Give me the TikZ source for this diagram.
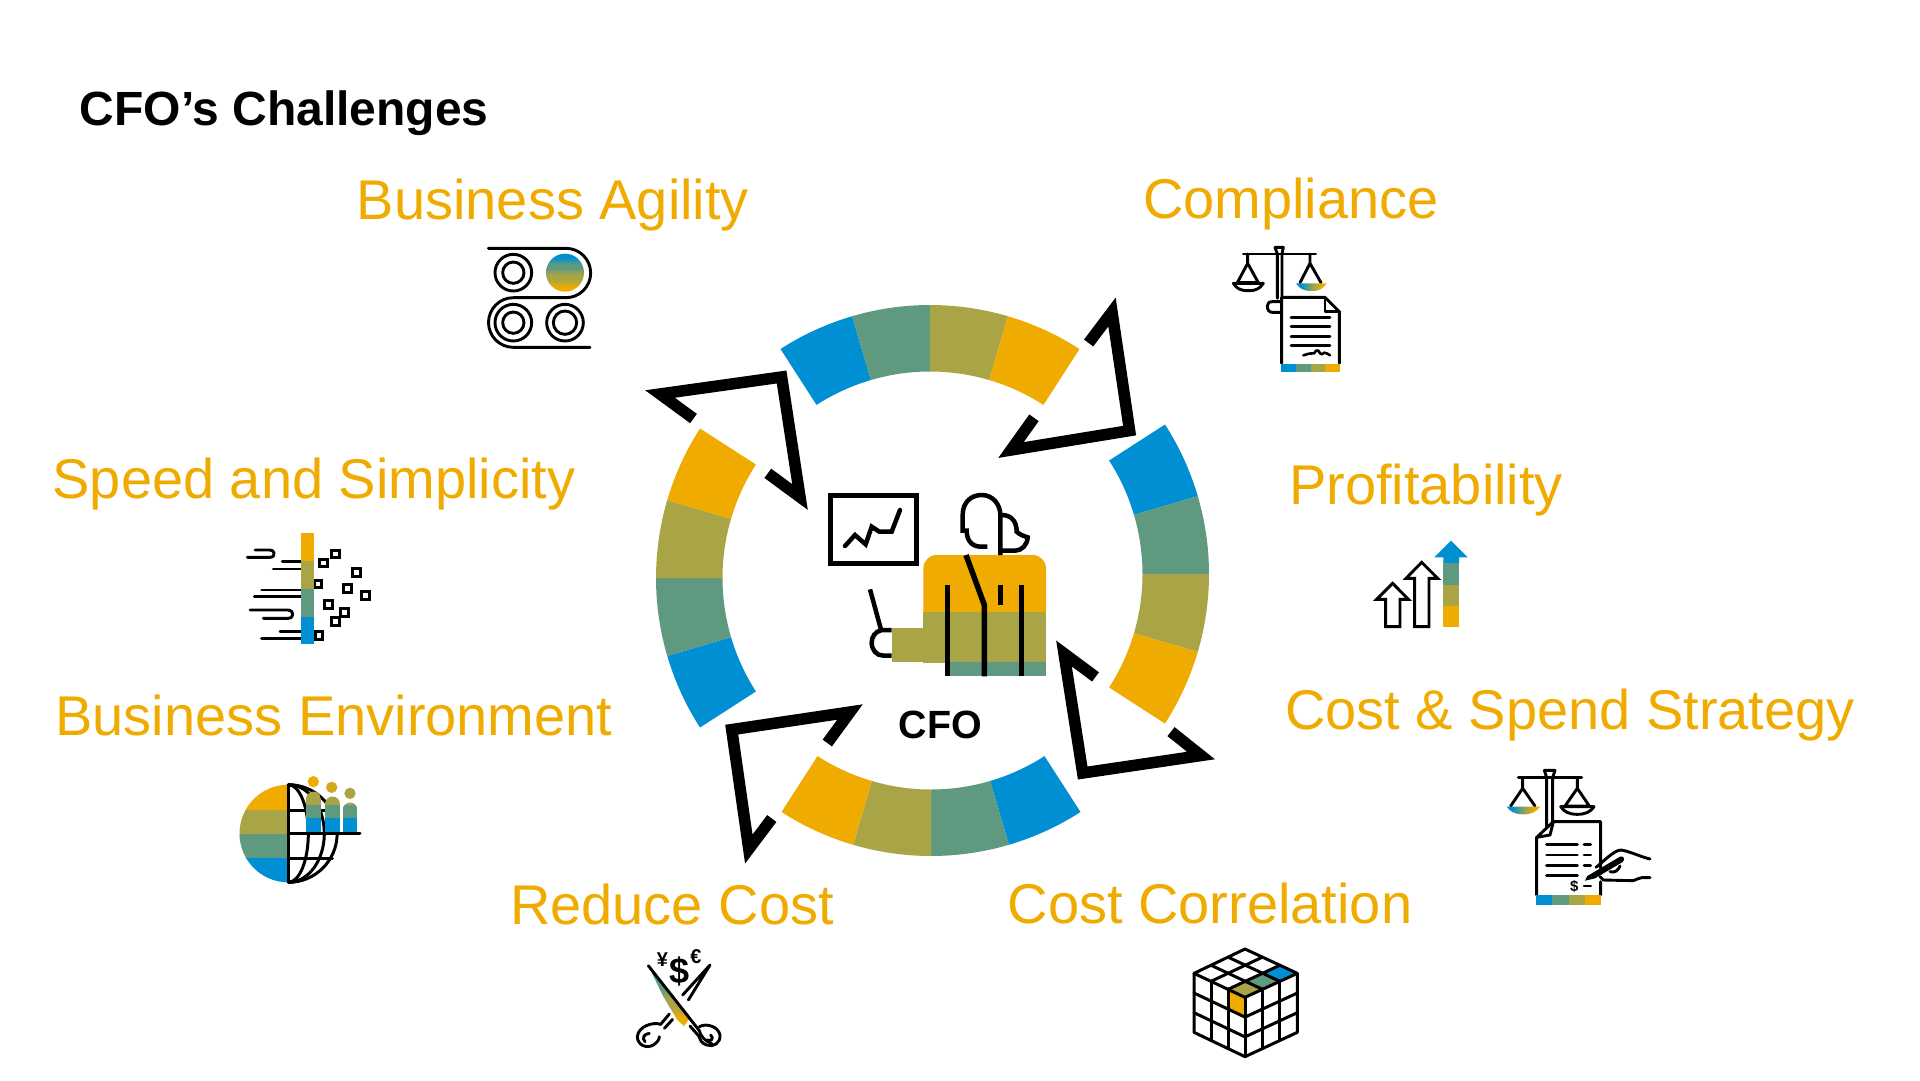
\documentclass[tikz,border=0pt]{standalone}
\usepackage{fontspec}
\setmainfont{Liberation Sans}
\definecolor{sapamber}{HTML}{F0AB00}
\definecolor{sapolive}{HTML}{A9A546}
\definecolor{sapgreen}{HTML}{5F9A80}
\definecolor{sapblue}{HTML}{008FD3}
\pgfdeclareverticalshading{vbands}{100bp}{color(0bp)=(sapamber);color(31bp)=(sapamber);color(41bp)=(sapolive);color(47bp)=(sapolive);color(56bp)=(sapgreen);color(61bp)=(sapgreen);color(70bp)=(sapblue);color(100bp)=(sapblue)}
\pgfdeclarehorizontalshading{hbands}{100bp}{color(0bp)=(sapblue);color(33bp)=(sapblue);color(44bp)=(sapgreen);color(55bp)=(sapolive);color(68bp)=(sapamber);color(100bp)=(sapamber)}
\tikzset{
 lab/.style={text=sapamber,font=\fontsize{56}{60}\selectfont,inner sep=0pt},
 ttl/.style={text=black,font=\bfseries\fontsize{48}{52}\selectfont,inner sep=0pt},
 arrowline/.style={line width=11.5,draw=black,miter limit=30,line join=miter,line cap=butt},
 ico/.style={line width=2.9,draw=black,line cap=round,line join=round},
 fat/.style={line width=5,draw=black,line cap=butt,line join=miter}
}
% ring band: centre, first screen angle, four colours
\newcommand{\ringband}[7]{%
 \foreach \k/\c in {0/#4,1/#5,2/#6,3/#7}{%
  \pgfmathsetmacro{\aa}{#3+16.4*\k}\pgfmathsetmacro{\bb}{\aa+16.4}%
  \fill[\c] ({#1+276*cos(\aa)},{#2+276*sin(\aa)}) arc[start angle=\aa,end angle=\bb,radius=276]
   -- ({#1+209.5*cos(\bb)},{#2+209.5*sin(\bb)}) arc[start angle=\bb,end angle=\aa,radius=209.5] -- cycle;}}
\begin{document}
\begin{tikzpicture}[x=1pt,y=-1pt]
\useasboundingbox (0,0) rectangle (1920,1080);
\fill[white] (0,0) rectangle (1920,1080);
% texts
\node[ttl,anchor=west] (title) at (79.5,113) {CFO’s Challenges};
\node[lab] (t1) at (553,205) {Business Agility};
\node[lab] (t2) at (1291,204) {Compliance};
\node[lab] (t3) at (314,484) {Speed and Simplicity};
\node[lab] (t4) at (1426,490) {Profitability};
\node[lab] (t5) at (334,715) {Business Environment};
\node[lab] (t6) at (1570,715) {Cost \& Spend Strategy};
\node[lab] (t7) at (672,904) {Reduce Cost};
\node[lab] (t8) at (1210,903) {Cost Correlation};
\node[font=\bfseries\fontsize{39.4}{44}\selectfont,inner sep=0pt] (cfo) at (940.5,725) {CFO};
% ring
\ringband{930}{581}{-122.8}{sapblue}{sapgreen}{sapolive}{sapamber}
\ringband{933}{574}{-32.8}{sapblue}{sapgreen}{sapolive}{sapamber}
\ringband{931}{580}{57.2}{sapblue}{sapgreen}{sapolive}{sapamber}
\ringband{932}{578}{147.2}{sapblue}{sapgreen}{sapolive}{sapamber}
% arrows
\draw[arrowline] (1088.6,343) -- (1112,312) -- (1129.6,430.6) -- (1011,450) -- (1034,417.8);
\draw[arrowline] (693.5,418.5) -- (660,394) -- (781.6,377) -- (800,497) -- (767.8,473.3);
\draw[arrowline] (827.3,743) -- (850,712) -- (731.7,729.6) -- (748.8,849) -- (771.8,818.5);
\draw[arrowline] (1095.5,676.9) -- (1064,653.5) -- (1082.7,773) -- (1201,755.5) -- (1171,731.6);
% CFO figure
\begin{scope}[shift={(820,480)},scale=1/3]
 \draw[fat] (32,47) rectangle (288,250);
 \draw[fat,line cap=round,line width=4.5] (75,198) -- (105,165) -- (137,193) -- (155,140) -- (178,155) -- (215,155) -- (240,90);
 \fill[sapamber] (310,396) -- (310,265) arc[start angle=180,end angle=270,radius=40] -- (638,225) arc[start angle=270,end angle=360,radius=40] -- (678,396) -- cycle;
 \fill[sapolive] (310,395) rectangle (678,548);
 \fill[sapolive] (215,443) rectangle (312,546);
 \fill[sapgreen] (385,547) rectangle (678,589);
 \draw[fat,line width=5.5] (382,315) -- (382,589);
 \draw[fat,line width=5.5] (605,315) -- (605,589);
 \draw[fat,line width=5.5] (542,315) -- (542,376);
 \draw[fat,line width=5.5] (438,225) -- (493,375) -- (493,589);
 \draw[fat,line width=4.5] (502,200) -- (480,200) .. controls (450,198) and (440,175) .. (440,152) -- (428,152) -- (428,105) .. controls (428,65) and (455,45) .. (485,45) .. controls (520,45) and (541,75) .. (541,105) -- (541,225);
 \draw[fat,line width=4.5] (545,105) .. controls (575,105) and (590,125) .. (590,155) .. controls (600,165) and (612,168) .. (623,172) .. controls (622,195) and (605,212) .. (585,212) -- (541,212);
 \draw[fat,line width=4.5] (150,328) -- (182,445);
 \draw[fat,line width=4.5] (215,450) -- (185,450) .. controls (165,455) and (155,470) .. (155,488) .. controls (155,510) and (170,527) .. (190,527) -- (215,527);
\end{scope}
% Business Agility icon
\begin{scope}[shift={(460,230)},scale=1/3]
 \draw[ico] (85,55) -- (318,55) arc[start angle=-90,end angle=90,radius=74] -- (160,203) arc[start angle=-90,end angle=-270,radius=74.5] -- (390,352);
 \draw[ico] (160,128) circle (55);
 \draw[ico] (160,128) circle (32);
 \draw[ico] (160,278) circle (55);
 \draw[ico] (160,278) circle (32);
 \draw[ico] (315,278) circle (55);
 \draw[ico] (315,278) circle (35);
 \shade[shading=vbands] (315,128) circle (57);
\end{scope}
% Compliance icon
\begin{scope}[shift={(1220,230)},scale=1/3]
 \draw[ico] (70,72) -- (287,72);
 \draw[ico] (165,52) -- (190,52) -- (186,72) -- (186,205) (165,52) -- (172,72) -- (172,205);
 \draw[ico] (83,72) -- (83,100) -- (52,158) -- (115,158) -- (83,100);
 \draw[ico] (40,160) -- (130,160) .. controls (120,175) and (110,182) .. (85,182) .. controls (60,182) and (50,175) .. (40,160) -- cycle;
 \draw[ico] (270,72) -- (270,100) -- (240,158) (270,100) -- (303,158);
 \shade[shading=hbands] (228,160) -- (320,160) .. controls (310,175) and (300,183) .. (275,183) .. controls (250,183) and (238,175) .. (228,160) -- cycle;
 \draw[ico] (185,215) -- (157,215) .. controls (147,215) and (142,220) .. (142,228) .. controls (142,240) and (147,247) .. (157,247) -- (185,247);
 \draw[ico] (185,400) -- (185,202) -- (315,202) -- (358,245) -- (358,400);
 \draw[ico] (315,202) -- (315,245) -- (358,245);
 \foreach \y in {262,290,320,347} \draw[ico] (213,\y) -- (330,\y);
 \draw[ico,line width=2.6] (250,376) .. controls (265,372) and (272,368) .. (282,370) .. controls (288,362) and (292,358) .. (295,362) .. controls (300,370) and (305,378) .. (312,368) .. controls (318,368) and (325,372) .. (330,376);
 \foreach \x/\c in {183/sapblue,227/sapgreen,272/sapolive,316/sapamber} \fill[\c] (\x,402) rectangle ++(45,25);
\end{scope}
% Speed and Simplicity icon
\begin{scope}[shift={(230,520)},scale=1/3]
 \foreach \p in {(281,129),(317,102),(379,158),(352,206),(407,226),(295,253),(344,277),(317,304),(267,346),(264,192)}
  \draw[ico,line width=3,line cap=butt,line join=miter] \p ++(-11.5,-11.5) rectangle ++(23,23);
 \draw[ico] (52,112) -- (120,112) .. controls (130,112) and (134,105) .. (132,98) .. controls (130,92) and (126,90) .. (118,90) -- (75,90);
 \draw[ico] (157,125) -- (212,125) (130,147) -- (212,147) (95,210) -- (212,210) (73,230) -- (212,230) (150,335) -- (212,335) (95,355) -- (212,355);
 \draw[ico] (60,270) -- (175,270) .. controls (185,272) and (190,278) .. (188,285) .. controls (186,292) and (182,295) .. (175,295) -- (100,295);
 \fill[sapamber] (212,40) rectangle (253,124);
 \fill[sapolive] (212,123) rectangle (253,208);
 \fill[sapgreen] (212,207) rectangle (253,291);
 \fill[sapblue] (212,290) rectangle (253,373);
\end{scope}
% Profitability icon
\begin{scope}[shift={(1370,530)},scale=1/3]
 \draw[ico,line join=miter] (68,160) -- (20,208) -- (47,208) -- (47,290) -- (90,290) -- (90,208) -- (115,208) -- cycle;
 \draw[ico,line join=miter] (155,97) -- (108,145) -- (134,145) -- (134,290) -- (177,290) -- (177,145) -- (203,145) -- cycle;
 \fill[sapblue] (243,32) -- (193,82) -- (220,82) -- (220,101) -- (267,101) -- (267,82) -- (293,82) -- cycle;
 \fill[sapgreen] (220,100) rectangle (267,166);
 \fill[sapolive] (220,165) rectangle (267,229);
 \fill[sapamber] (220,228) rectangle (267,290);
\end{scope}
% Business Environment icon
\begin{scope}[shift={(225,770)},scale=1/3]
 \begin{scope}
  \clip (190,44) arc[start angle=-90,end angle=-270,radius=146.5] -- cycle;
  \fill[sapamber] (40,40) rectangle (190,121);
  \fill[sapolive] (40,120) rectangle (190,193);
  \fill[sapgreen] (40,192) rectangle (190,266);
  \fill[sapblue] (40,265) rectangle (190,340);
 \end{scope}
 \draw[ico,line width=3,line cap=butt] (190,44) -- (190,337);
 \draw[ico,line width=3] (190,44) arc[start angle=-90,end angle=90,radius=146.5];
 \draw[ico,line width=3] (190,44) arc[start angle=-90,end angle=90,x radius=60,y radius=146.5];
 \draw[ico,line width=3] (190,44) arc[start angle=-90,end angle=90,x radius=108,y radius=146.5];
 \draw[ico,line width=3] (190,120) -- (322,120) (190,265) -- (322,265) (190,191) -- (405,191);
 \fill[sapamber] (265,35) circle (17);
 \fill[sapamber!55!sapolive] (320,52) circle (17);
 \fill[sapolive] (375,70) circle (17);
 % bodies
 \foreach \xa/\xb/\yt in {243/288/65,300/345/80,353/397/98}{
  \begin{scope}
   \clip (\xa,189) -- (\xa,\yt+22) arc[start angle=180,end angle=360,radius=22.5] -- (\xb,189) -- cycle;
   \fill[sapolive] (\xa,60) rectangle (\xb,106);
   \fill[sapgreen] (\xa,105) rectangle (\xb,146);
   \fill[sapblue] (\xa,145) rectangle (\xb,189);
  \end{scope}}
 \draw[ico,line width=3,line cap=butt] (190,191) -- (405,191);
\end{scope}
% Cost & Spend Strategy icon
\begin{scope}[shift={(1500,760)},scale=1/3]
 \draw[ico] (55,53) -- (245,53);
 \draw[ico] (133,31) -- (165,31) -- (158,53) -- (158,190) (133,31) -- (140,53) -- (140,205);
 \draw[ico] (68,53) -- (68,85) -- (32,138) (68,85) -- (105,138);
 \shade[shading=hbands] (20,140) -- (120,140) .. controls (110,155) and (95,163) .. (70,163) .. controls (45,163) and (30,155) .. (20,140) -- cycle;
 \draw[ico] (232,53) -- (232,85) -- (195,138) -- (268,138) -- (232,85);
 \draw[ico] (182,140) -- (282,140) .. controls (272,155) and (257,163) .. (232,163) .. controls (207,163) and (192,155) .. (182,140) -- cycle;
 \draw[ico] (302,325) -- (302,185) -- (160,185) -- (110,232) -- (110,405) (302,365) -- (302,405);
 \draw[ico] (110,232) -- (150,225) -- (160,185);
 \foreach \y in {253,285,316} \draw[ico] (140,\y) -- (232,\y) (252,\y) -- (272,\y);
 \draw[ico] (140,347) -- (232,347) (252,378) -- (272,378);
 \node[inner sep=0pt,font=\bfseries\fontsize{15}{15}\selectfont] (dollar) at (223,378) {\$};
 \foreach \x/\c in {108/sapblue,157/sapgreen,206/sapolive,255/sapamber} \fill[\c] (\x,405) rectangle ++(49,30);
 \draw[ico] (288,322) .. controls (310,305) and (340,272) .. (362,270) .. controls (385,272) and (420,290) .. (450,297);
 \draw[ico] (300,350) -- (310,360) -- (400,362) .. controls (410,360) and (415,353) .. (425,353) -- (450,353);
 \draw[ico] (330,335) .. controls (345,340) and (355,330) .. (360,318);
 \fill[black] (255,362) -- (262,348) -- (360,290) .. controls (372,287) and (376,298) .. (368,306) -- (285,355) -- cycle;
\end{scope}
% Reduce Cost icon
\begin{scope}[shift={(620,940)},scale=1/3]
 \shade[shading=vbands] (85,77) -- (212,232) -- (192,258) -- (172,240) -- (130,170) -- cycle;
 \draw[ico] (85,77) -- (238,272) .. controls (240,285) and (255,305) .. (275,310);
 \draw[ico] (270,75) -- (188,165) (270,75) -- (205,180);
 \draw[ico] (148,222) -- (122,253) (158,238) -- (133,265);
 \draw[ico] (122,253) .. controls (100,245) and (55,258) .. (52,290) .. controls (52,315) and (80,327) .. (100,315) .. controls (110,308) and (118,300) .. (118,290);
 \draw[ico] (75,305) .. controls (66,295) and (70,282) .. (88,280);
 \draw[ico] (210,258) -- (238,290);
 \draw[ico] (238,260) .. controls (260,248) and (295,260) .. (300,285) .. controls (302,310) and (280,322) .. (260,315) .. controls (245,310) and (240,300) .. (238,290);
 \draw[ico] (262,300) .. controls (275,305) and (282,295) .. (272,285);
 \node[inner sep=0pt,font=\bfseries\fontsize{20}{20}\selectfont] (yen) at (127,60) {¥};
 \node[inner sep=0pt,font=\bfseries\fontsize{36}{36}\selectfont] (usd) at (180,95) {\$};
 \node[inner sep=0pt,font=\bfseries\fontsize{20}{20}\selectfont] (eur) at (228,50) {€};
\end{scope}
% Cube icon
\begin{scope}[shift={(1180,940)},scale=1/3]
 \fill[sapolive] (195,172) -- (144,148) -- (196,124) -- (247,148) -- cycle;
 \fill[sapgreen] (247,148) -- (196,124) -- (248,100) -- (300,124) -- cycle;
 \fill[sapblue] (300,124) -- (248,100) -- (300,76) -- (352,100) -- cycle;
 \fill[sapamber] (195,172) -- (144,148) -- (144,207) -- (195,231) -- cycle;
 \begin{scope}[ico,line width=3,line join=round]
  \draw (195,27) -- (352,100) -- (195,172) -- (42,100) -- cycle;
  \draw (42,100) -- (42,277) -- (195,350) -- (352,277) -- (352,100);
  \draw (195,172) -- (195,350);
  \foreach \t in {1,2}{
   \pgfmathsetmacro{\f}{\t/3}
   \draw ({42+153*\f},{100+72*\f}) -- ({195+157*\f},{27+73*\f});
   \draw ({42+153*\f},{100-73*\f}) -- ({195+157*\f},{172-72*\f});
   \draw ({42+153*\f},{100+72*\f}) -- ({42+153*\f},{277+73*\f});
   \draw ({195+157*\f},{172-72*\f}) -- ({195+157*\f},{350-73*\f});
   \draw (42,{100+177*\f}) -- (195,{172+178*\f}) -- (352,{100+177*\f});
  }
 \end{scope}
\end{scope}
\end{tikzpicture}
\end{document}
